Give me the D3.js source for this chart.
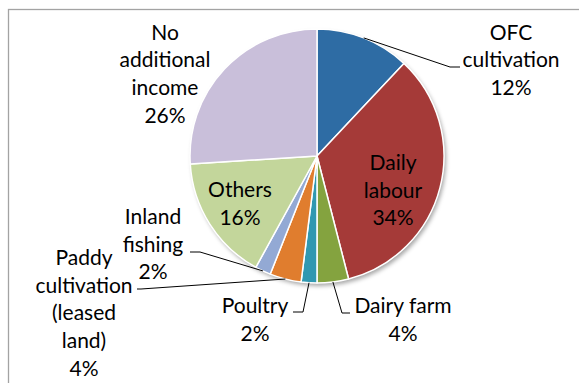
<!DOCTYPE html>
<html>
<head>
<meta charset="utf-8">
<script src="https://cdn.jsdelivr.net/npm/d3@7/dist/d3.min.js"></script>
<style>
  html, body { margin: 0; padding: 0; background: #fff; }
  svg { display: block; }
  text { font-family: Lato, "Noto Sans", sans-serif; fill: #000; }
</style>
</head>
<body>
<svg id="chart" width="579" height="383"></svg>
<script>
// Sources of additional household income (share of households)
const categories = [
  "OFC cultivation",
  "Daily labour",
  "Dairy farm",
  "Poultry",
  "Paddy cultivation (leased land)",
  "Inland fishing",
  "Others",
  "No additional income"
];
const shares = [12, 34, 4, 2, 4, 2, 16, 26];
const labelLines = [
  ["OFC", "cultivation"],
  ["Daily", "labour"],
  ["Dairy farm"],
  ["Poultry"],
  ["Paddy", "cultivation", "(leased", "land)"],
  ["Inland", "fishing"],
  ["Others"],
  ["No", "additional", "income"]
];
const colors = ["#2E6CA4", "#A53A38", "#84A33F", "#3098B1", "#E07D2E", "#93A9D4", "#C3D69B", "#C9BFDA"];

// Layout: label block centre / first baseline, and leader elbow + end (null = no leader)
const layout = [
  { x: 511, y: 39.5, leader: [[450, 67], [460, 67]] },
  { x: 393, y: 170,  leader: null },
  { x: 403, y: 313,  leader: [[342, 313], [350, 313]] },
  { x: 255, y: 313,  leader: [[303, 312], [293, 312]] },
  { x: 84,  y: 265,  leader: [[141, 289], [137, 289]] },
  { x: 153, y: 224,  leader: [[200, 252], [190, 252]] },
  { x: 240, y: 197,  leader: null },
  { x: 165, y: 39.5, leader: null }
];

const cx = 317, cy = 156, radius = 127, lineH = 27.7;

const svg = d3.select("#chart");

// chart area frame
svg.append("rect")
  .attr("x", 8.5).attr("y", 9.5)
  .attr("width", 700).attr("height", 500)
  .attr("fill", "none")
  .attr("stroke", "#a3a3a3")
  .attr("stroke-width", 1.3);

const defs = svg.append("defs");
const shadow = defs.append("filter").attr("id", "pieShadow")
  .attr("x", "-20%").attr("y", "-20%").attr("width", "140%").attr("height", "140%");
shadow.append("feDropShadow")
  .attr("dx", 2).attr("dy", 3).attr("stdDeviation", 2.2)
  .attr("flood-color", "#000").attr("flood-opacity", 0.35);

const data = categories.map((c, i) => ({ name: c, value: shares[i], idx: i }));
const pie = d3.pie().sort(null).value(d => d.value);
const arcs = pie(data);
const arc = d3.arc().innerRadius(0).outerRadius(radius);

const g = svg.append("g").attr("transform", `translate(${cx},${cy})`);

// shadow under the whole disc
g.append("circle").attr("r", radius).attr("fill", "#fff").attr("filter", "url(#pieShadow)");

g.selectAll("path.slice")
  .data(arcs)
  .join("path")
  .attr("class", "slice")
  .attr("d", arc)
  .attr("fill", d => colors[d.data.idx])
  .attr("stroke", "#fff")
  .attr("stroke-width", 1.5)
  .attr("stroke-linejoin", "round");

// leader lines from slice edge at mid-angle
arcs.forEach(a => {
  const L = layout[a.data.idx];
  if (!L.leader) return;
  const mid = (a.startAngle + a.endAngle) / 2;
  const p0 = [cx + radius * Math.sin(mid), cy - radius * Math.cos(mid)];
  svg.append("polyline")
    .attr("points", [p0, ...L.leader].map(p => p.join(",")).join(" "))
    .attr("fill", "none")
    .attr("stroke", "#000")
    .attr("stroke-width", 1);
});

// labels
arcs.forEach(a => {
  const i = a.data.idx;
  const L = layout[i];
  const lines = labelLines[i].concat([d3.format(".0%")(a.data.value / 100)]);
  const t = svg.append("text")
    .attr("text-anchor", "middle")
    .attr("font-size", 21);
  lines.forEach((s, k) => {
    t.append("tspan").attr("x", L.x).attr("y", L.y + k * lineH).text(s);
  });
});
</script>
</body>
</html>
